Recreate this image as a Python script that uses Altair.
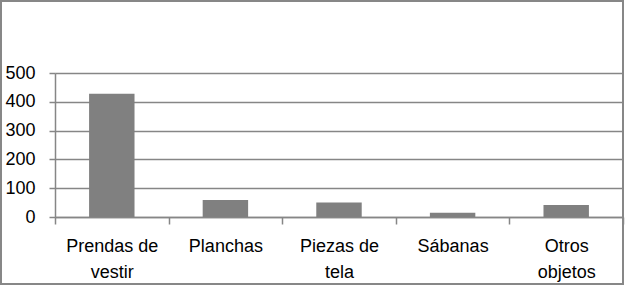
import altair as alt
import pandas as pd

categories = ["Prendas de vestir", "Planchas", "Piezas de tela", "Sábanas", "Otros objetos"]
label_lines = [["Prendas de", "vestir"], ["Planchas"], ["Piezas de", "tela"], ["Sábanas"], ["Otros", "objetos"]]
values = [428, 59, 50, 15, 42]
y_ticks = [0, 100, 200, 300, 400, 500]

df = pd.DataFrame({"cat": categories, "val": values})

# build label expression from the label lists
expr = "datum.label"
for cat, lines in reversed(list(zip(categories, label_lines))):
    arr = "[" + ",".join("'" + l + "'" for l in lines) + "]"
    expr = f"datum.label == '{cat}' ? {arr} : ({expr})"

GRAY = "#868686"
FONT = "Liberation Sans"

bars = alt.Chart(df).mark_bar(color="#808080", width=alt.RelativeBandSize(0.4)).encode(
    x=alt.X("cat:N", sort=categories,
            scale=alt.Scale(paddingInner=0, paddingOuter=0),
            axis=alt.Axis(title=None, labelAngle=0, labelExpr=expr, tickBand="extent",
                          tickSize=7, tickColor=GRAY, tickWidth=1.5,
                          domainColor=GRAY, domainWidth=1.5,
                          labelPadding=13, labelLineHeight=26, labelFontSize=18,
                          labelFont=FONT, labelColor="#000000", grid=False)),
    y=alt.Y("val:Q", scale=alt.Scale(domain=[0, 500], nice=False),
            axis=alt.Axis(title=None, values=y_ticks, tickSize=6, tickColor=GRAY, tickWidth=1.5,
                          domainColor=GRAY, domainWidth=1.5, gridColor=GRAY, gridWidth=1.5,
                          gridOpacity=1, labelPadding=14, labelFontSize=18, labelFont=FONT,
                          labelColor="#000000")),
)

frame = alt.Chart(alt.Data(values=[{}])).mark_rect(
    fill=None, stroke="#878787", strokeWidth=2
).encode(
    x=alt.value(-54), x2=alt.value(568), y=alt.value(-72), y2=alt.value(211)
)

chart = alt.layer(bars, frame).properties(
    width=568, height=144,
    autosize=alt.AutoSizeParams(type="none"),
    padding={"left": 55, "top": 73, "right": 8, "bottom": 74},
).configure_view(stroke=None).configure(background="white")

chart.save("out.html", embed_options={"renderer": "svg", "actions": False})
